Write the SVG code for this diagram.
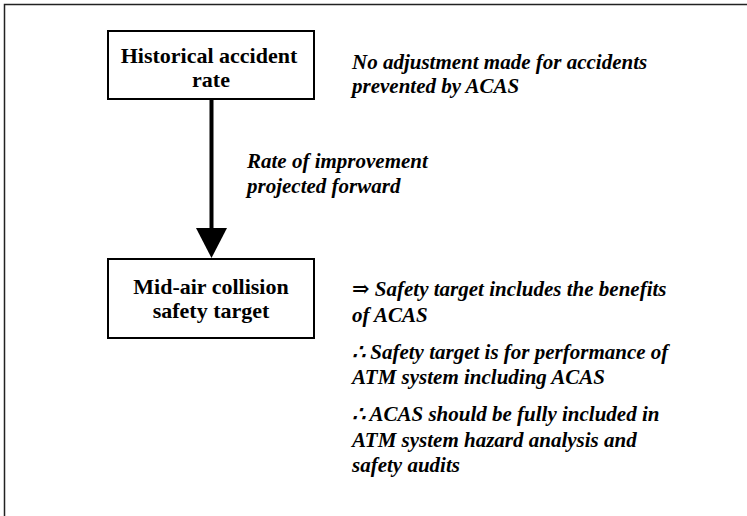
<svg xmlns="http://www.w3.org/2000/svg" width="747" height="516" viewBox="0 0 747 516">
<style>
.frame{fill:none;stroke:#222;stroke-width:1.5}
.box{fill:#fff;stroke:#000;stroke-width:2}
.conn{stroke:#000;stroke-width:4;fill:none}
</style>
<rect width="747" height="516" fill="#fff"/>
<rect class="frame" x="4.5" y="4.5" width="760" height="530"/>
<g id="connectors">
<line class="conn" x1="211.5" y1="99" x2="211.5" y2="229"/>
<path d="M196,228 L227,228 L211.5,258 Z" fill="#000"/>
</g>
<g font-family="'Liberation Serif', 'DejaVu Serif', serif" font-weight="bold" font-size="22" text-anchor="middle" fill="#000">
<g id="node-historical">
<rect class="box" x="108" y="31" width="206" height="68"/>
<text x="209" y="63">Historical accident</text>
<text x="211" y="87">rate</text>
</g>
<g id="node-target">
<rect class="box" x="108" y="259" width="206" height="79"/>
<text x="211" y="294">Mid-air collision</text>
<text x="211" y="318">safety target</text>
</g>
</g>
<g font-family="'Liberation Serif', 'DejaVu Serif', serif" font-weight="bold" font-style="italic" font-size="21" fill="#000">
<g id="note-adjustment">
<text x="352" y="69">No adjustment made for accidents</text>
<text x="352" y="93">prevented by ACAS</text>
</g>
<g id="note-rate">
<text x="247" y="168">Rate of improvement</text>
<text x="247" y="193">projected forward</text>
</g>
<g id="note-conclusions">
<text x="352" y="296">⇒ Safety target includes the benefits</text>
<text x="352" y="322">of ACAS</text>
<text x="352" y="359">∴ Safety target is for performance of</text>
<text x="352" y="384">ATM system including ACAS</text>
<text x="352" y="421">∴ ACAS should be fully included in</text>
<text x="352" y="447">ATM system hazard analysis and</text>
<text x="352" y="472">safety audits</text>
</g>
</g>
</svg>
